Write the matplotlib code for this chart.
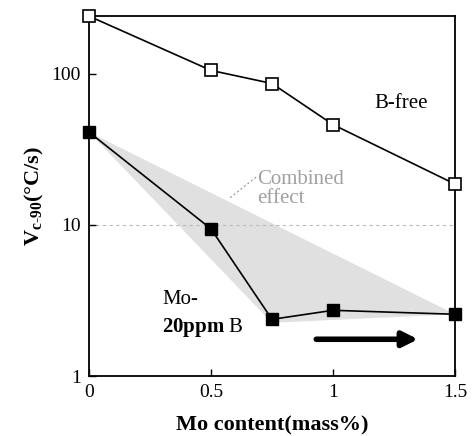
import numpy as np
import matplotlib
matplotlib.use("Agg")
from matplotlib import pyplot as plt

plt.rcParams['font.family'] = ['Liberation Serif', 'DejaVu Serif']
plt.rcParams['mathtext.fontset'] = 'custom'
plt.rcParams['mathtext.rm'] = 'Liberation Serif'
plt.rcParams['mathtext.bf'] = 'Liberation Serif:bold'
plt.rcParams['mathtext.it'] = 'Liberation Serif:italic'

# Critical cooling rate vs Mo content
mo = [0, 0.5, 0.75, 1.0, 1.5]
b_free = [240, 105, 86, 46, 18.6]
mo_b = [41, 9.4, 2.37, 2.72, 2.56]

# Shaded "combined effect" region
shade_x = [0, 1.5, 0.75]
shade_y = [41, 2.56, 2.25]

fig, ax = plt.subplots(figsize=(4.72, 4.36), dpi=100)
fig.subplots_adjust(left=0.1886, right=0.964, bottom=0.1376, top=0.963)

ax.fill(shade_x, shade_y, color='#e0e0e0', lw=0, zorder=1)
ax.axhline(10, color='#bbbbbb', ls=(0, (3, 3)), lw=0.8, zorder=1)

ax.plot(mo, b_free, c='k', lw=1.2, marker='s', ms=9, mfc='white', mec='k', mew=1.2, zorder=3, clip_on=False)
ax.plot(mo, mo_b, c='k', lw=1.2, marker='s', ms=9, mfc='k', mec='k', zorder=3, clip_on=False)

ax.set_yscale('log')
ax.set_xlim(0, 1.5)
ax.set_ylim(1, 240)
ax.set_xticks([0, 0.5, 1, 1.5])
ax.set_xticklabels(["0", "0.5", "1", "1.5"])
ax.set_yticks([1, 10, 100])
ax.set_yticklabels(["1", "10", "100"])
ax.yaxis.set_minor_locator(matplotlib.ticker.NullLocator())
ax.tick_params(direction='in', labelsize=14, length=5, width=1, pad=6)
for s in ax.spines.values():
    s.set_linewidth(1.3)

ax.set_xlabel("Mo content(mass%)", fontsize=16, fontweight='bold', labelpad=10)
ax.set_ylabel(r"$\mathbf{V_{c\text{-}90}}$$\mathbf{(°C/s)}$", fontsize=16, labelpad=4)

ax.text(1.17, 63, "B-free", fontsize=15, va='center')
ax.text(0.69, 17.3, "Combined\neffect", fontsize=15, color='#a0a0a0', va='center', linespacing=1.0)
ax.plot([0.578, 0.69], [15.1, 21], c='#999999', ls=(0, (2, 2)), lw=0.8)
ax.text(0.3, 3.2, "Mo-", fontsize=15, va='center')
ax.text(0.3, 2.1, r"$\mathbf{20ppm}$ B", fontsize=15, va='center')

ax.annotate("", xy=(1.36, 1.75), xytext=(0.92, 1.75),
            arrowprops=dict(arrowstyle='-|>,head_length=0.9,head_width=0.45', lw=4, color='k'))

fig.savefig("out.png", dpi=100)
